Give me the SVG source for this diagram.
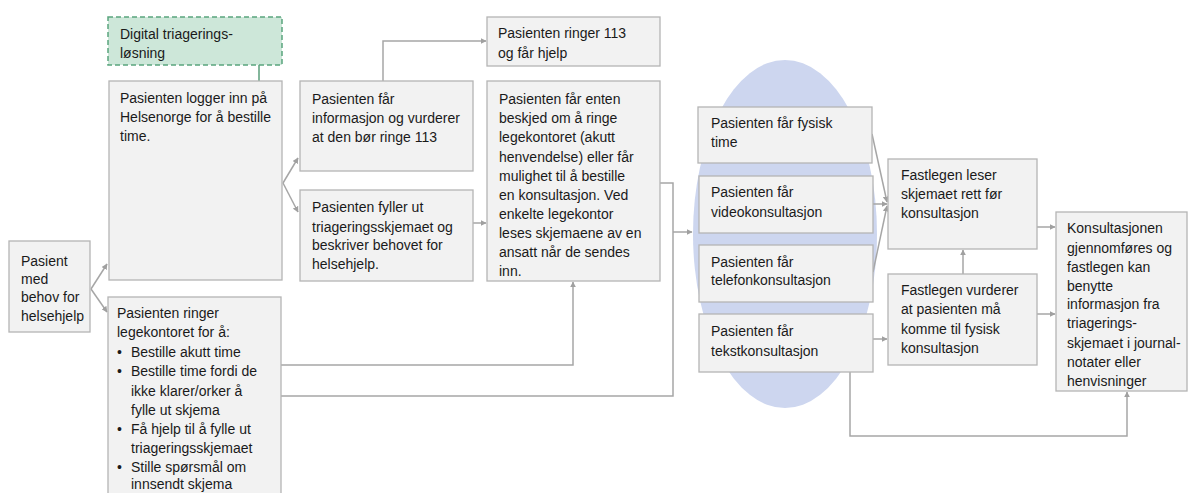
<svg xmlns="http://www.w3.org/2000/svg" width="1189" height="493" viewBox="0 0 1189 493">
<style>
.box{fill:#f2f2f2;stroke:#b4b4b4;stroke-width:1.3}
.green{fill:#cde7d9;stroke:#5aa57d;stroke-width:1.5;stroke-dasharray:5 3}
text{font-family:"Liberation Sans",Arial,sans-serif;font-size:14px;fill:#1a1a1a}
.c{fill:none;stroke:#a6a6a6;stroke-width:1.5}
.ca{fill:none;stroke:#a6a6a6;stroke-width:1.5;marker-end:url(#ah)}
</style>
<defs>
<marker id="ah" viewBox="0 0 10 10" refX="9" refY="5" markerWidth="6" markerHeight="6" markerUnits="userSpaceOnUse" orient="auto"><path d="M0,0 L10,5 L0,10 z" fill="#a0a0a0"/></marker>
</defs>
<rect width="1189" height="493" fill="#ffffff"/>
<ellipse cx="785" cy="234" rx="92" ry="174" fill="#cdd6ef"/>
<g id="connectors">
<line x1="259" y1="65" x2="259" y2="81" stroke="#5a9e7a" stroke-width="1.5"/>
<polyline class="ca" points="91,289 107,264"/>
<polyline class="ca" points="91,289 107,312"/>
<polyline class="ca" points="283,183 298,158"/>
<polyline class="ca" points="283,183 298,212"/>
<polyline class="ca" points="383,81 383,41 486,41"/>
<polyline class="ca" points="473,223 486,223"/>
<polyline class="ca" points="281,365 573,365 573,282"/>
<polyline class="c" points="660,183 673,183 673,396 281,396"/>
<polyline class="ca" points="673,232 692,232"/>
<polyline class="ca" points="872,134 887,202"/>
<polyline class="ca" points="873,204 887,204"/>
<polyline class="ca" points="873,272 887,206"/>
<polyline class="ca" points="873,339 887,339"/>
<polyline class="ca" points="963,274 963,250"/>
<polyline class="ca" points="1037,227 1055,227"/>
<polyline class="ca" points="1037,314 1055,314"/>
<polyline class="ca" points="850,372 850,436 1127,436 1127,392"/>
</g>
<g id="digital">
<rect class="green" x="108" y="17" width="174" height="48"/>
<text x="120" y="39">Digital triagerings-</text>
<text x="120" y="58">løsning</text>
</g>
<g id="logger">
<rect class="box" x="109" y="81" width="173" height="199"/>
<text x="120" y="103">Pasienten logger inn på</text>
<text x="120" y="122">Helsenorge for å bestille</text>
<text x="120" y="141">time.</text>
</g>
<g id="pasient">
<rect class="box" x="9" y="241" width="81" height="91"/>
<text x="21" y="266">Pasient</text>
<text x="21" y="284">med</text>
<text x="21" y="302">behov for</text>
<text x="21" y="321">helsehjelp</text>
</g>
<g id="ringer">
<rect class="box" x="108" y="297" width="173" height="210"/>
<text x="117" y="318">Pasienten ringer</text>
<text x="117" y="337">legekontoret for å:</text>
<text x="117" y="357">•</text><text x="131" y="357">Bestille akutt time</text>
<text x="117" y="376">•</text><text x="131" y="376">Bestille time fordi de</text>
<text x="131" y="396">ikke klarer/orker å</text>
<text x="131" y="415">fylle ut skjema</text>
<text x="117" y="434">•</text><text x="131" y="434">Få hjelp til å fylle ut</text>
<text x="131" y="453">triageringsskjemaet</text>
<text x="117" y="472">•</text><text x="131" y="472">Stille spørsmål om</text>
<text x="131" y="489">innsendt skjema</text>
</g>
<g id="informasjon">
<rect class="box" x="300" y="81" width="173" height="90"/>
<text x="312" y="104">Pasienten får</text>
<text x="312" y="123">informasjon og vurderer</text>
<text x="312" y="142">at den bør ringe 113</text>
</g>
<g id="fyller">
<rect class="box" x="300" y="190" width="173" height="91"/>
<text x="312" y="212">Pasienten fyller ut</text>
<text x="312" y="232">triageringsskjemaet og</text>
<text x="312" y="250">beskriver behovet for</text>
<text x="312" y="269">helsehjelp.</text>
</g>
<g id="ringer113">
<rect class="box" x="487" y="17" width="173" height="49"/>
<text x="498" y="38">Pasienten ringer 113</text>
<text x="498" y="58">og får hjelp</text>
</g>
<g id="enten">
<rect class="box" x="487" y="81" width="173" height="200"/>
<text x="499" y="104">Pasienten får enten</text>
<text x="499" y="123">beskjed om å ringe</text>
<text x="499" y="142">legekontoret (akutt</text>
<text x="499" y="162">henvendelse) eller får</text>
<text x="499" y="181">mulighet til å bestille</text>
<text x="499" y="200">en konsultasjon. Ved</text>
<text x="499" y="219">enkelte legekontor</text>
<text x="499" y="238">leses skjemaene av en</text>
<text x="499" y="257">ansatt når de sendes</text>
<text x="499" y="276">inn.</text>
</g>
<g id="fysisk">
<rect class="box" x="698" y="107" width="174" height="56"/>
<text x="711" y="128">Pasienten får fysisk</text>
<text x="711" y="147">time</text>
</g>
<g id="video">
<rect class="box" x="699" y="176" width="174" height="57"/>
<text x="711" y="197">Pasienten får</text>
<text x="711" y="217">videokonsultasjon</text>
</g>
<g id="telefon">
<rect class="box" x="699" y="245" width="174" height="57"/>
<text x="711" y="267">Pasienten får</text>
<text x="711" y="285">telefonkonsultasjon</text>
</g>
<g id="tekst">
<rect class="box" x="699" y="314" width="174" height="58"/>
<text x="711" y="336">Pasienten får</text>
<text x="711" y="356">tekstkonsultasjon</text>
</g>
<g id="leser">
<rect class="box" x="888" y="159" width="149" height="90"/>
<text x="901" y="180">Fastlegen leser</text>
<text x="901" y="199">skjemaet rett før</text>
<text x="901" y="218">konsultasjon</text>
</g>
<g id="vurderer">
<rect class="box" x="888" y="274" width="149" height="91"/>
<text x="901" y="295">Fastlegen vurderer</text>
<text x="901" y="314">at pasienten må</text>
<text x="901" y="334">komme til fysisk</text>
<text x="901" y="353">konsultasjon</text>
</g>
<g id="konsultasjonen">
<rect class="box" x="1056" y="212" width="131" height="179"/>
<text x="1067" y="233">Konsultasjonen</text>
<text x="1067" y="253">gjennomføres og</text>
<text x="1067" y="272">fastlegen kan</text>
<text x="1067" y="291">benytte</text>
<text x="1067" y="309">informasjon fra</text>
<text x="1067" y="328">triagerings-</text>
<text x="1067" y="348">skjemaet i journal-</text>
<text x="1067" y="367">notater eller</text>
<text x="1067" y="386">henvisninger</text>
</g>
</svg>
